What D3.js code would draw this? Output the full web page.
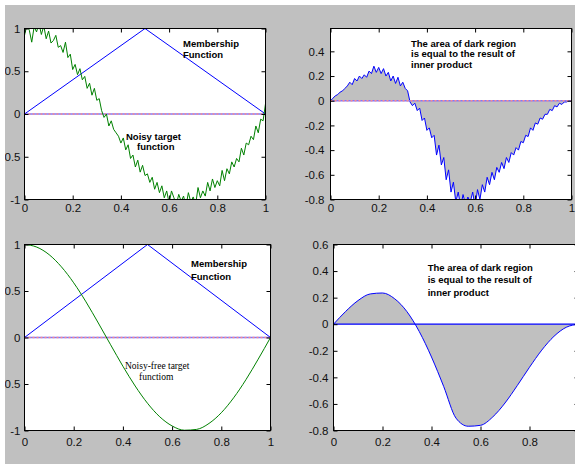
<!DOCTYPE html>
<html><head><meta charset="utf-8">
<script src="https://cdn.jsdelivr.net/npm/d3@7"></script>
<style>html,body{margin:0;padding:0;background:#fff;}svg{display:block;}</style>
</head><body>
<script>
// ---------- DATA ----------
const xNoisy = [0,0.01,0.02,0.03,0.04,0.05,0.06,0.07,0.08,0.09,0.1,0.11,0.12,0.13,0.14,0.15,0.16,0.17,0.18,0.19,0.2,0.21,0.22,0.23,0.24,0.25,0.26,0.27,0.28,0.29,0.3,0.31,0.32,0.33,0.34,0.35,0.36,0.37,0.38,0.39,0.4,0.41,0.42,0.43,0.44,0.45,0.46,0.47,0.48,0.49,0.5,0.51,0.52,0.53,0.54,0.55,0.56,0.57,0.58,0.59,0.6,0.61,0.62,0.63,0.64,0.65,0.66,0.67,0.68,0.69,0.7,0.71,0.72,0.73,0.74,0.75,0.76,0.77,0.78,0.79,0.8,0.81,0.82,0.83,0.84,0.85,0.86,0.87,0.88,0.89,0.9,0.91,0.92,0.93,0.94,0.95,0.96,0.97,0.98,0.99,1];
const noisyTarget = [0.92,1.04,0.98,0.84,1.02,0.96,1.06,0.93,1.03,0.88,0.97,0.83,0.86,0.92,0.78,0.80,0.72,0.84,0.66,0.70,0.52,0.58,0.46,0.53,0.40,0.44,0.30,0.36,0.22,0.30,0.16,0.18,0.04,-0.04,0.0,-0.14,-0.08,-0.18,-0.22,-0.26,-0.34,-0.28,-0.42,-0.36,-0.52,-0.48,-0.62,-0.54,-0.68,-0.60,-0.72,-0.70,-0.80,-0.74,-0.88,-0.80,-0.92,-0.84,-0.98,-0.90,-1.04,-0.90,-0.98,-1.06,-0.94,-1.02,-0.96,-1.08,-0.92,-1.03,-0.97,-1.06,-0.86,-0.98,-0.90,-0.96,-0.80,-0.90,-0.76,-0.86,-0.78,-0.84,-0.66,-0.78,-0.64,-0.70,-0.56,-0.62,-0.52,-0.56,-0.40,-0.48,-0.34,-0.36,-0.26,-0.30,-0.14,-0.22,-0.06,-0.08,0.12];
const noisyProduct = [0,0.02,0.04,0.05,0.07,0.08,0.10,0.12,0.15,0.13,0.18,0.16,0.20,0.18,0.21,0.19,0.24,0.22,0.28,0.23,0.27,0.22,0.26,0.20,0.23,0.16,0.20,0.14,0.19,0.12,0.15,0.10,0.08,-0.01,-0.04,-0.02,-0.08,-0.06,-0.16,-0.14,-0.24,-0.22,-0.30,-0.28,-0.44,-0.36,-0.52,-0.46,-0.64,-0.56,-0.74,-0.66,-0.82,-0.74,-0.86,-0.76,-0.84,-0.78,-0.82,-0.74,-0.86,-0.72,-0.80,-0.68,-0.74,-0.62,-0.68,-0.58,-0.64,-0.54,-0.58,-0.50,-0.55,-0.46,-0.50,-0.42,-0.44,-0.38,-0.40,-0.33,-0.34,-0.28,-0.29,-0.22,-0.24,-0.18,-0.19,-0.14,-0.15,-0.11,-0.11,-0.07,-0.08,-0.04,-0.05,-0.02,-0.03,-0.01,-0.01,0,0];
const xSmooth = [0,0.05,0.1,0.15,0.2,0.25,0.3,0.35,0.4,0.45,0.5,0.55,0.6,0.65,0.7,0.75,0.8,0.85,0.9,0.95,1];
const cleanTarget = [1,0.972,0.891,0.760,0.588,0.383,0.156,-0.078,-0.309,-0.522,-0.707,-0.853,-0.951,-0.997,-0.988,-0.924,-0.809,-0.649,-0.454,-0.233,0];
const cleanProduct = [0,0.097,0.178,0.228,0.235,0.191,0.094,-0.055,-0.247,-0.470,-0.707,-0.768,-0.761,-0.698,-0.593,-0.462,-0.324,-0.195,-0.091,-0.023,0];
const memX = [0,0.5,1];
const memY = [0,1,0];
const zeroX = [0,1];
const zeroY = [0,0];
const xTicks = [0,0.2,0.4,0.6,0.8,1];
const yTicksTarget = [-1,-0.5,0,0.5,1];
const yTicksNoisyProd = [-0.8,-0.6,-0.4,-0.2,0,0.2,0.4];
const yTicksCleanProd = [-0.8,-0.6,-0.4,-0.2,0,0.2,0.4,0.6];
const labelsTL = ["Membership","Function"];
const labelsTL2 = ["Noisy target","function"];
const labelsArea = ["The area of dark region","is equal to the result of","inner product"];
const labelsBL2 = ["Noisy-free target","functiom"];

// ---------- DRAW ----------
const W = 575, H = 464;
const svg = d3.select("body").append("svg").attr("width", W).attr("height", H);
svg.append("rect").attr("x",0).attr("y",0).attr("width",W).attr("height",H).attr("fill","#fff");
svg.append("rect").attr("x",5).attr("y",5).attr("width",W-5).attr("height",H-5).attr("fill","#c0c0c0");
const defs = svg.append("defs");

const fmt = d => String(Math.round(d*100)/100);
let clipId = 0;

function panel(cfg){
  const x = d3.scaleLinear().domain([0,1]).range([cfg.left, cfg.right]);
  const y = d3.scaleLinear().domain(cfg.ydom).range([cfg.bottom, cfg.top]);
  const g = svg.append("g");
  g.append("rect").attr("x",cfg.left).attr("y",cfg.top)
    .attr("width",cfg.right-cfg.left).attr("height",cfg.bottom-cfg.top).attr("fill","#fff");
  const id = "clip"+(clipId++);
  defs.append("clipPath").attr("id",id).append("rect")
    .attr("x",cfg.left).attr("y",cfg.top).attr("width",cfg.right-cfg.left).attr("height",cfg.bottom-cfg.top);
  const plot = g.append("g").attr("clip-path","url(#"+id+")");
  const styleAxis = (sel, showText) => {
    sel.select(".domain").remove();
    sel.selectAll(".tick line").attr("stroke","#000");
    sel.selectAll(".tick text").attr("fill","#111")
      .style("font-family","'Liberation Sans', Arial, sans-serif").style("font-size","11.5px");
    if(!showText) sel.selectAll(".tick text").remove();
  };
  const xfmt = cfg.hideLastX ? (d => d === 1 ? "" : fmt(d)) : fmt;
  g.append("g").attr("transform",`translate(0,${cfg.bottom})`)
    .call(d3.axisBottom(x).tickValues(xTicks).tickFormat(xfmt).tickSizeInner(-4).tickSizeOuter(0).tickPadding(cfg.xpad))
    .call(s=>styleAxis(s,true));
  g.append("g").attr("transform",`translate(0,${cfg.top})`)
    .call(d3.axisTop(x).tickValues(xTicks).tickSizeInner(-4).tickSizeOuter(0))
    .call(s=>styleAxis(s,false));
  g.append("g").attr("transform",`translate(${cfg.left},0)`)
    .call(d3.axisLeft(y).tickValues(cfg.yticks).tickFormat(fmt).tickSizeInner(-4).tickSizeOuter(0).tickPadding(cfg.ypad))
    .call(s=>styleAxis(s,true));
  g.append("g").attr("transform",`translate(${cfg.right},0)`)
    .call(d3.axisRight(y).tickValues(cfg.yticks).tickSizeInner(-4).tickSizeOuter(0))
    .call(s=>styleAxis(s,false));
  g.append("rect").attr("x",cfg.left).attr("y",cfg.top)
    .attr("width",cfg.right-cfg.left).attr("height",cfg.bottom-cfg.top)
    .attr("fill","none").attr("stroke","#000").attr("stroke-width",1);
  return {x,y,g,plot};
}

function lineOf(p, xs, ys, curve){
  return d3.line().x((d,i)=>p.x(xs[i])).y(d=>p.y(d)).curve(curve||d3.curveLinear)(ys);
}
function dottedZero(p){
  p.plot.append("path").attr("d",lineOf(p,zeroX,zeroY)).attr("fill","none").attr("stroke","#7a7aff").attr("stroke-width",1.3);
  p.plot.append("path").attr("d",lineOf(p,zeroX,zeroY)).attr("fill","none").attr("stroke","#ff8a8a").attr("stroke-width",1.3).attr("stroke-dasharray","2,2");
}
function texts(g, lines, x, y0, dy, font, weight, size){
  lines.forEach((t,i)=>{
    g.append("text").attr("x",x).attr("y",y0+i*dy).text(t)
      .style("font-family",font).style("font-weight",weight).style("font-size",size+"px").attr("fill","#000");
  });
}
const SANS = "'Liberation Sans', Arial, sans-serif";
const SERIF = "'Liberation Serif', 'Times New Roman', serif";

// Panel 1: noisy target + membership
const p1 = panel({left:24.5,right:265.5,top:28.5,bottom:199.5,ydom:[-1,1],yticks:yTicksTarget,xpad:4,ypad:4});
dottedZero(p1);
p1.plot.append("path").attr("d",lineOf(p1,memX,memY)).attr("fill","none").attr("stroke","#0000ff").attr("stroke-width",1);
p1.plot.append("path").attr("d",lineOf(p1,xNoisy,noisyTarget)).attr("fill","none").attr("stroke","#008000").attr("stroke-width",1);
texts(p1.g, labelsTL, 183, 46.5, 11, SANS, "bold", 9.5);
texts(p1.g, labelsTL2.slice(0,1), 126, 139.5, 0, SANS, "bold", 9.5);
texts(p1.g, labelsTL2.slice(1), 137, 150, 0, SANS, "bold", 9.5);

// Panel 2: noisy product
const p2 = panel({left:330.5,right:571.5,top:28.5,bottom:199.5,ydom:[-0.8,0.585],yticks:yTicksNoisyProd,xpad:4,ypad:6});
p2.plot.append("path").attr("d", d3.area().x((d,i)=>p2.x(xNoisy[i])).y0(p2.y(0)).y1(d=>p2.y(d))(noisyProduct)).attr("fill","#c0c0c0");
p2.plot.append("path").attr("d",lineOf(p2,xNoisy,noisyProduct)).attr("fill","none").attr("stroke","#0000ff").attr("stroke-width",1);
dottedZero(p2);
texts(p2.g, labelsArea, 411, 46.5, 10.7, SANS, "bold", 9.5);

// Panel 3: clean target + membership
const p3 = panel({left:24.5,right:270.5,top:244.5,bottom:430.5,ydom:[-1,1],yticks:yTicksTarget,xpad:7,ypad:4});
dottedZero(p3);
p3.plot.append("path").attr("d",lineOf(p3,memX,memY)).attr("fill","none").attr("stroke","#0000ff").attr("stroke-width",1);
p3.plot.append("path").attr("d",lineOf(p3,xSmooth,cleanTarget,d3.curveMonotoneX)).attr("fill","none").attr("stroke","#008000").attr("stroke-width",1);
texts(p3.g, labelsTL, 191, 267, 12.5, SANS, "bold", 9.5);
texts(p3.g, labelsBL2.slice(0,1), 125, 368.5, 0, SERIF, "normal", 9.5);
texts(p3.g, labelsBL2.slice(1), 139, 380, 0, SERIF, "normal", 9.5);

// Panel 4: clean product
const p4 = panel({left:333.5,right:578.5,top:244.5,bottom:430.5,ydom:[-0.8,0.6],yticks:yTicksCleanProd,xpad:7,ypad:5,hideLastX:true});
p4.plot.append("path").attr("d", d3.area().x((d,i)=>p4.x(xSmooth[i])).y0(p4.y(0)).y1(d=>p4.y(d)).curve(d3.curveMonotoneX)(cleanProduct)).attr("fill","#c0c0c0");
p4.plot.append("path").attr("d",lineOf(p4,zeroX,zeroY)).attr("fill","none").attr("stroke","#0000ff").attr("stroke-width",1.2);
p4.plot.append("path").attr("d",lineOf(p4,xSmooth,cleanProduct,d3.curveMonotoneX)).attr("fill","none").attr("stroke","#0000ff").attr("stroke-width",1);
texts(p4.g, labelsArea, 427.7, 270.5, 12.7, SANS, "bold", 9.5);

// white border strips (image crop edge)
svg.append("rect").attr("x",0).attr("y",0).attr("width",5).attr("height",H).attr("fill","#fff");
svg.append("rect").attr("x",0).attr("y",0).attr("width",W).attr("height",5).attr("fill","#fff");
</script>
</body></html>
